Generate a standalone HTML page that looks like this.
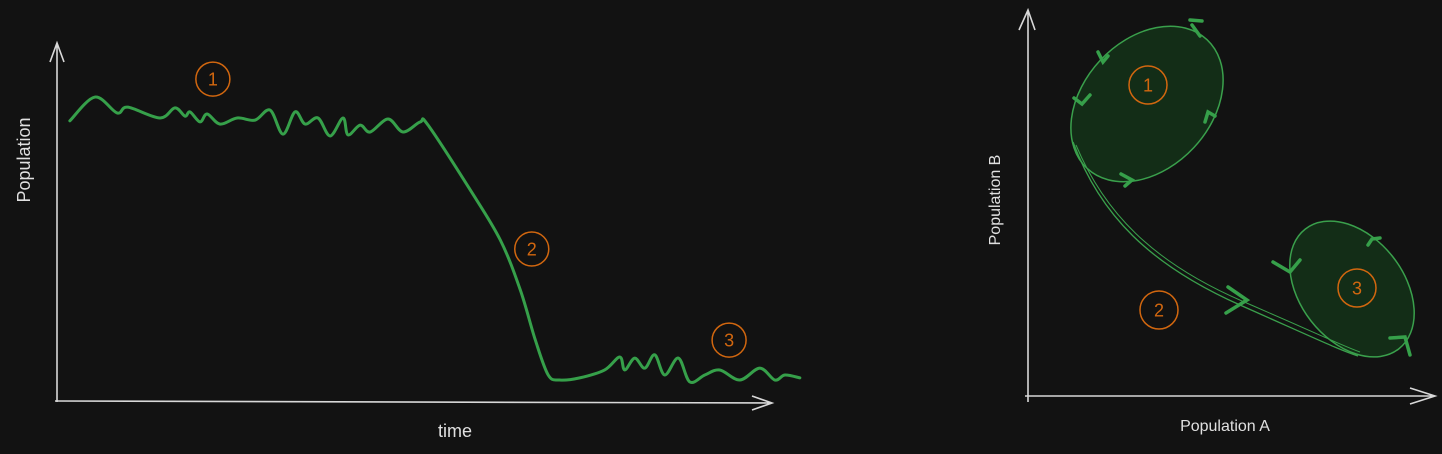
<!DOCTYPE html>
<html><head><meta charset="utf-8"><style>
html,body{margin:0;padding:0;background:#121212;}
svg{display:block}
text{font-family:"Liberation Sans","DejaVu Sans",sans-serif;}
</style></head><body>
<svg id="chart" width="1442" height="454" viewBox="0 0 1442 454">
<rect width="1442" height="454" fill="#121212"/>
<g id="left">
  <path d="M57,402 L57,45 M50,62 L57,43 L64,62" stroke="#d8d8d8" stroke-width="1.6" fill="none"/>
  <path d="M55,401 L771,403 M752,396 L772,403 L752,410" stroke="#d8d8d8" stroke-width="1.6" fill="none"/>
  <text x="30" y="160" fill="#e0e0e0" font-size="18" transform="rotate(-90 30 160)" text-anchor="middle">Population</text>
  <text x="455" y="437" fill="#e0e0e0" font-size="18" text-anchor="middle">time</text>
  <path id="series" stroke="#36a04a" stroke-width="3" fill="none" stroke-linecap="round" stroke-linejoin="round"/>
</g>
<g id="right">
  <path d="M1028,402 L1028,12 M1019,30 L1028,10 L1035,30" stroke="#d8d8d8" stroke-width="1.6" fill="none"/>
  <path d="M1025,396 L1434,396 M1410,388 L1435,396 L1410,404" stroke="#d8d8d8" stroke-width="1.6" fill="none"/>
  <text x="1000" y="200" fill="#e0e0e0" font-size="16" transform="rotate(-90 1000 200)" text-anchor="middle">Population B</text>
  <text x="1225" y="431" fill="#e0e0e0" font-size="16" text-anchor="middle">Population A</text>
  <ellipse cx="1147" cy="104" rx="88" ry="64" transform="rotate(-47 1147 104)" fill="#132d17" stroke="#3aa04c" stroke-width="1.5"/>
  <ellipse cx="1352" cy="289" rx="76" ry="52" transform="rotate(52 1352 289)" fill="#132d17" stroke="#3aa04c" stroke-width="1.5"/>
  <path d="M1073,142 C1100,215 1150,265 1240,305 S1340,350 1358,356" stroke="#3aa04c" stroke-width="1.3" fill="none"/>
  <path d="M1076,145 C1104,212 1152,262 1242,301 S1343,346 1360,352" stroke="#3aa04c" stroke-width="1" fill="none"/>
  <g stroke="#36a04a" stroke-width="3.5" fill="none" stroke-linecap="round">
    <path d="M1190,20 L1202,21 M1192,25 L1200,36"/>
    <path d="M1098,52 L1103,62 L1108,56"/>
    <path d="M1074,98 L1082,104 L1090,95"/>
    <path d="M1121,174 L1132,180 L1125,186"/>
    <path d="M1205,122 L1208,112 L1215,116"/>
    <path d="M1228,287 L1247,300 L1226,313"/>
    <path d="M1273,262 L1290,272 L1300,260"/>
    <path d="M1368,245 L1372,239 L1380,238"/>
    <path d="M1390,338 L1405,337 L1410,355"/>
  </g>
</g>
<g id="markers"></g>
</svg>
<script>
const times = [1.8,5.3,8.4,9.9,14.4,16.5,17.9,18.6,20.0,21.0,22.8,25.2,27.7,29.8,31.6,33.3,34.7,36.5,38.2,40.0,40.7,42.4,43.8,46.3,48.4,50.8,51.9,57.8,62.0,64.8,66.9,68.7,70.3,73.1,76.6,78.7,79.4,80.8,82.2,83.6,85.0,86.9,88.5,90.6,92.7,95.5,98.3,100.4,101.8,103.9];
const population = [78.1,84.7,80.3,81.9,78.9,81.7,79.4,80.6,77.8,80.0,77.2,78.9,78.3,81.1,74.4,80.6,77.2,78.9,73.9,78.9,74.2,76.9,75.0,78.6,75.0,77.8,76.9,58.9,45.0,31.1,17.2,7.5,6.1,6.7,8.9,12.5,8.9,12.2,9.4,13.1,7.5,12.2,5.6,7.5,8.9,6.1,9.4,6.1,7.5,6.7];
const phaseLabels = ["1","2","3"];
const phaseTimes = [21.8,66.4,94.0];
const phaseLevels = [89.7,42.5,17.2];
const phase2Labels = ["1","2","3"];

const xScale = t => 57 + t * 7.15;
const yScale = v => 402 - v * 3.6;

const pts = times.map((t,i)=>[xScale(t), yScale(population[i])]);
let d = "M" + pts[0][0] + "," + pts[0][1];
for (let i=0;i<pts.length-1;i++){
  const p0=pts[Math.max(0,i-1)],p1=pts[i],p2=pts[i+1],p3=pts[Math.min(pts.length-1,i+2)];
  const c1=[p1[0]+(p2[0]-p0[0])/6,p1[1]+(p2[1]-p0[1])/6];
  const c2=[p2[0]-(p3[0]-p1[0])/6,p2[1]-(p3[1]-p1[1])/6];
  d+=` C${c1[0]},${c1[1]} ${c2[0]},${c2[1]} ${p2[0]},${p2[1]}`;
}
document.getElementById('series').setAttribute('d', d);

const ns="http://www.w3.org/2000/svg";
const g=document.getElementById('markers');
function marker(cx,cy,label,r,fs){
  const c=document.createElementNS(ns,'circle');
  c.setAttribute('cx',cx);c.setAttribute('cy',cy);c.setAttribute('r',r);
  c.setAttribute('fill','none');c.setAttribute('stroke','#d2670f');c.setAttribute('stroke-width','1.5');
  
  
  g.appendChild(c);
  const t=document.createElementNS(ns,'text');
  t.setAttribute('x',cx);t.setAttribute('y',cy+fs*0.36);t.setAttribute('text-anchor','middle');
  t.setAttribute('fill','#d2670f');t.setAttribute('font-size',fs);
  t.textContent=label;
  
  
  g.appendChild(t);
}
phaseLabels.forEach((l,i)=>marker(xScale(phaseTimes[i]), yScale(phaseLevels[i]), l, 17, 18));
const p2pos=[[1148,85],[1159,310],[1357,288]];
phase2Labels.forEach((l,i)=>marker(p2pos[i][0],p2pos[i][1],l,19,18));
</script>
</body></html>
